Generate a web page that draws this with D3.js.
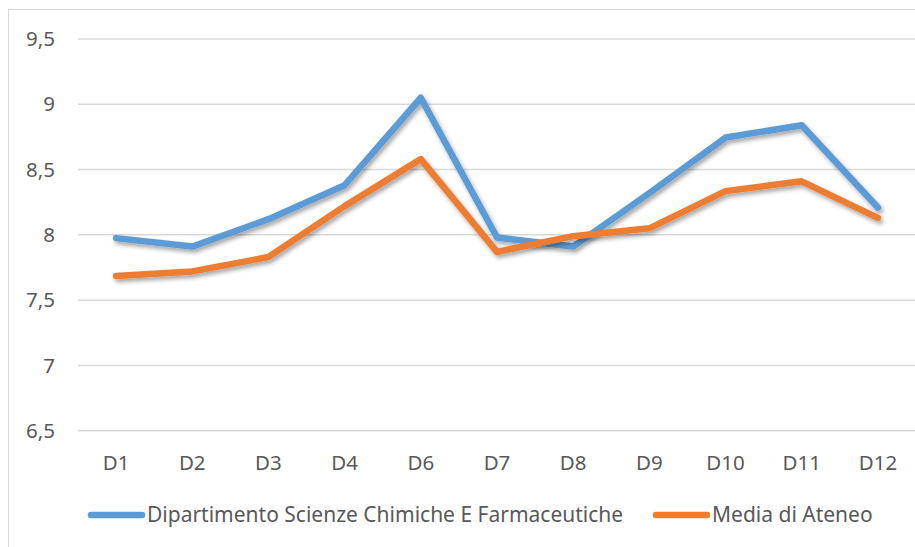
<!DOCTYPE html>
<html>
<head>
<meta charset="utf-8">
<script src="https://cdn.jsdelivr.net/npm/d3@7"></script>
<style>
  html, body { margin: 0; padding: 0; background: #fff; }
  svg { display: block; font-family: "Noto Sans", "Open Sans", sans-serif; }
</style>
</head>
<body>
<svg id="chart" width="915" height="547"></svg>
<script>
// data
const categories = ["D1", "D2", "D3", "D4", "D6", "D7", "D8", "D9", "D10", "D11", "D12"];
const dipartimento = [7.975, 7.91, 8.12, 8.38, 9.05, 7.98, 7.91, 8.32, 8.745, 8.84, 8.21];
const mediaAteneo = [7.685, 7.72, 7.83, 8.22, 8.58, 7.87, 7.99, 8.05, 8.335, 8.41, 8.13];
const yTicks = [6.5, 7, 7.5, 8, 8.5, 9, 9.5];

const series = [
  { name: "Dipartimento Scienze Chimiche E Farmaceutiche", values: dipartimento, color: "#5b9bd5" },
  { name: "Media di Ateneo", values: mediaAteneo, color: "#ed7d31" }
];

const svg = d3.select("#chart");
const textColor = "#595959";
const fontSize = "20.5px";

// outer frame
svg.append("rect")
  .attr("x", 8.5).attr("y", 9.5)
  .attr("width", 920).attr("height", 560)
  .attr("fill", "none")
  .attr("stroke", "#d9d9d9")
  .attr("stroke-width", 1);

// shadow filter for the lines
const defs = svg.append("defs");
defs.append("filter")
  .attr("id", "shadow")
  .attr("x", "-10%").attr("y", "-10%")
  .attr("width", "120%").attr("height", "130%")
  .append("feDropShadow")
  .attr("dx", 2).attr("dy", 3)
  .attr("stdDeviation", 2)
  .attr("flood-color", "#000")
  .attr("flood-opacity", 0.35);

const x = d3.scalePoint()
  .domain(categories)
  .range([78, 916])
  .padding(0.5);

const y = d3.scaleLinear()
  .domain([6.5, 9.5])
  .range([430.7, 39]);

// gridlines
svg.append("g")
  .selectAll("line")
  .data(yTicks)
  .join("line")
  .attr("x1", 78).attr("x2", 916)
  .attr("y1", d => y(d)).attr("y2", d => y(d))
  .attr("stroke", "#d9d9d9")
  .attr("stroke-width", 1.5);

// y tick labels
const fmt = d => String(d).replace(".", ",");
svg.append("g")
  .selectAll("text")
  .data(yTicks)
  .join("text")
  .attr("x", 55)
  .attr("y", d => y(d))
  .attr("dy", "0.35em")
  .attr("text-anchor", "end")
  .attr("fill", textColor)
  .style("font-size", fontSize)
  .text(fmt);

// x tick labels
svg.append("g")
  .selectAll("text")
  .data(categories)
  .join("text")
  .attr("x", d => x(d))
  .attr("y", 470)
  .attr("text-anchor", "middle")
  .attr("fill", textColor)
  .style("font-size", fontSize)
  .text(d => d);

// lines
const line = d3.line()
  .x((d, i) => x(categories[i]))
  .y(d => y(d));

svg.append("g")
  .selectAll("path")
  .data(series)
  .join("path")
  .attr("d", d => line(d.values))
  .attr("fill", "none")
  .attr("stroke", d => d.color)
  .attr("stroke-width", 6.5)
  .attr("stroke-linejoin", "round")
  .attr("stroke-linecap", "round")
  .attr("filter", "url(#shadow)");

// legend
const legendItems = [
  { x: 91, series: series[0] },
  { x: 656, series: series[1] }
];
const legend = svg.append("g");
legendItems.forEach(item => {
  legend.append("line")
    .attr("x1", item.x).attr("x2", item.x + 51)
    .attr("y1", 515).attr("y2", 515)
    .attr("stroke", item.series.color)
    .attr("stroke-width", 6.5)
    .attr("stroke-linecap", "round");
  legend.append("text")
    .attr("x", item.x + 56)
    .attr("y", 522)
    .attr("fill", textColor)
    .style("font-size", "21px")
    .text(item.series.name);
});
</script>
</body>
</html>
